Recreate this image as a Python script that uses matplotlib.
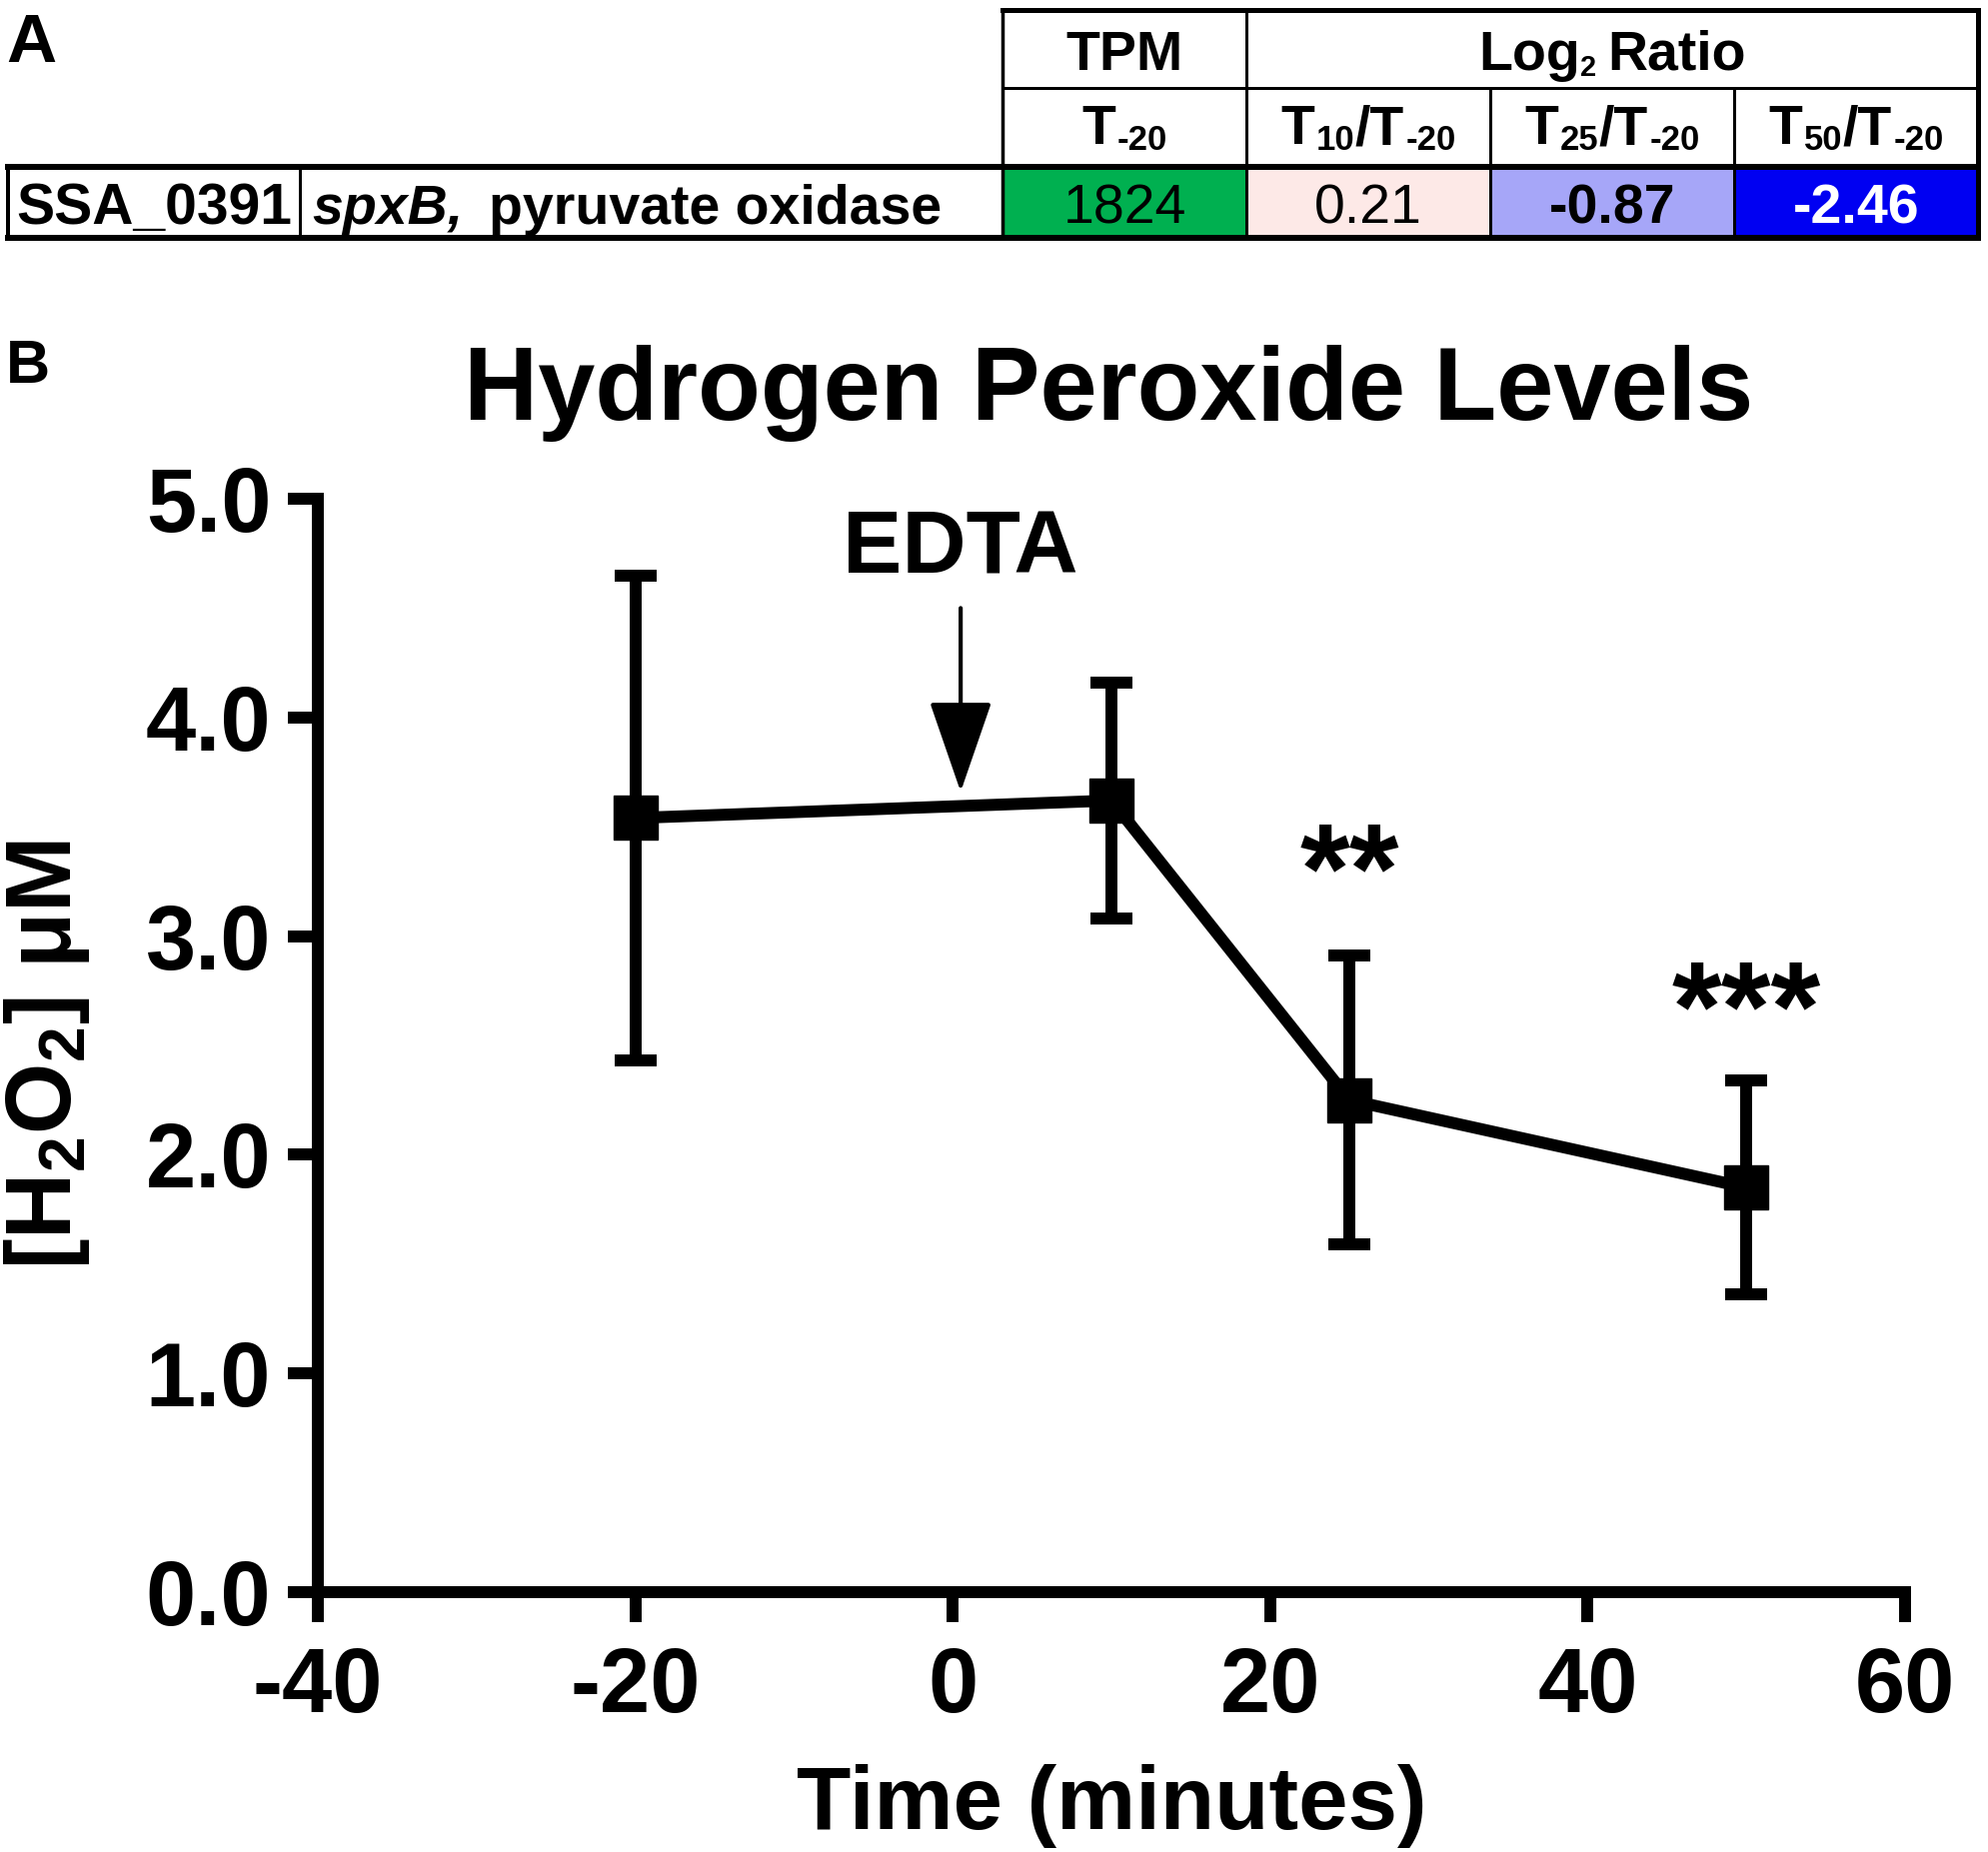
import matplotlib
matplotlib.use('Agg')
import matplotlib.pyplot as plt
from matplotlib.lines import Line2D
from matplotlib.patches import Rectangle

plt.rcParams['font.family'] = ['Liberation Sans', 'DejaVu Sans']
plt.rcParams['font.weight'] = 'bold'
plt.rcParams['mathtext.fontset'] = 'custom'
plt.rcParams['mathtext.rm'] = 'Liberation Sans'
plt.rcParams['mathtext.bf'] = 'Liberation Sans:bold'
plt.rcParams['mathtext.it'] = 'Liberation Sans:italic'
plt.rcParams['axes.unicode_minus'] = False

# ---------------- data ----------------
time_min = [-20, 10, 25, 50]
h2o2_mean = [3.54, 3.62, 2.25, 1.85]
h2o2_sd = [1.11, 0.54, 0.66, 0.49]
sig_marks = ['', '', '**', '***']
sig_y = [0, 0, 3.11, 2.48]
x_ticks = [-40, -20, 0, 20, 40, 60]
y_ticks = [0.0, 1.0, 2.0, 3.0, 4.0, 5.0]
edta_time = 0.5
edta_text_y = 4.66
arrow_top = 4.50
arrow_tip = 3.66

gene_id = 'SSA_0391'
gene_name = 'spxB,'
gene_desc = 'pyruvate oxidase'
tpm_t20 = [1824]
log2_ratios = [0.21, -0.87, -2.46]
ratio_num = ['10', '25', '50']
ratio_den = '-20'
cell_colors = ['#00B050', '#FDE9E7', '#A6A6F8', '#0000F2']
value_weights = ['normal', 'normal', 'bold', 'bold']
value_colors = ['black', 'black', 'black', 'white']

# ---------------- figure ----------------
W, H = 1990, 1853
fig = plt.figure(figsize=(W / 100, H / 100), dpi=100)
ax = fig.add_axes([318 / W, 260 / H, (1906 - 318) / W, (1593 - 499) / H])

ax.errorbar(time_min, h2o2_mean, yerr=h2o2_sd, color='black', lw=8.6,
            marker='s', ms=31, elinewidth=8.6, capsize=15, capthick=8.6,
            clip_on=False, zorder=3)
ax.set_xlim(-40, 60)
ax.set_ylim(0, 5)
for s in ['top', 'right']:
    ax.spines[s].set_visible(False)
for s in ['left', 'bottom']:
    ax.spines[s].set_linewidth(8.6)
ax.set_xticks(x_ticks)
ax.set_xticklabels([f'{v:d}' for v in x_ticks])
ax.set_yticks(y_ticks)
ax.set_yticklabels([f'{v:.1f}' for v in y_ticks])
ax.tick_params(direction='out', length=21.6, width=8.6, labelsize=65)
ax.tick_params(axis='x', pad=17)
ax.tick_params(axis='y', pad=12)

ax.text(edta_time, edta_text_y, 'EDTA', ha='center', va='baseline',
        fontsize=64, fontweight='bold')
ax.annotate('', xy=(edta_time, arrow_tip), xytext=(edta_time, arrow_top),
            arrowprops=dict(arrowstyle='-|>,head_length=0.58,head_width=0.2',
                            lw=3, color='black', mutation_scale=100,
                            shrinkA=0, shrinkB=0))
for xi, s, yi in zip(time_min, sig_marks, sig_y):
    if s:
        ax.text(xi, yi, s, ha='center', va='baseline', fontsize=92,
                fontweight='bold')

# ---------------- overlay (pixel coordinates) ----------------
ov = fig.add_axes([0, 0, 1, 1])
ov.set_xlim(0, W)
ov.set_ylim(H, 0)
ov.axis('off')
ov.patch.set_visible(False)

ov.text(1109, 420, 'Hydrogen Peroxide Levels', ha='center', va='baseline',
        fontsize=74, fontweight='bold')
ov.text(1112, 1830, 'Time (minutes)', ha='center', va='baseline',
        fontsize=64, fontweight='bold')
ov.text(47, 1055, r'[H$_\mathbf{2}$O$_\mathbf{2}$] $\mathrm{μ}$M', rotation=90,
        ha='center', va='center', fontsize=66, fontweight='bold')
ov.text(6, 62, 'A', fontsize=50, fontweight='bold', va='baseline')
ov.text(6, 383, 'B', fontsize=44, fontweight='bold', va='baseline')

renderer = fig.canvas.get_renderer()


def rich(x, y, pieces, ha='center'):
    widths = []
    for p in pieces:
        t = ov.text(0, 0, p['s'], fontsize=p['fs'],
                    fontweight=p.get('w', 'bold'),
                    fontstyle=p.get('st', 'normal'))
        widths.append(t.get_window_extent(renderer=renderer).width)
        t.remove()
    total = sum(widths) + sum(p.get('gap', 0) for p in pieces)
    cx = x - total / 2 if ha == 'center' else x
    for p, w in zip(pieces, widths):
        cx += p.get('gap', 0)
        ov.text(cx, y + p.get('dy', 0), p['s'], fontsize=p['fs'],
                fontweight=p.get('w', 'bold'), fontstyle=p.get('st', 'normal'),
                color=p.get('c', 'black'), ha='left', va='baseline')
        cx += w


col_x = [8, 300, 1003, 1247, 1491, 1735, 1979]
row_y = [10, 88, 167, 238]
FS = 40
SUB = 25

# cell fills
for i, c in enumerate(cell_colors):
    ov.add_patch(Rectangle((col_x[2 + i], row_y[2]), col_x[3 + i] - col_x[2 + i],
                           row_y[3] - row_y[2], facecolor=c, edgecolor='none'))


def hline(y, x0, x1, px):
    ov.add_line(Line2D([x0, x1], [y, y], color='black', lw=px / 1.389,
                       solid_capstyle='projecting'))


def vline(x, y0, y1, px):
    ov.add_line(Line2D([x, x], [y0, y1], color='black', lw=px / 1.389,
                       solid_capstyle='projecting'))


hline(row_y[0], col_x[2], col_x[6], 5)
hline(row_y[1], col_x[2], col_x[6], 3)
hline(row_y[2], col_x[0], col_x[6], 6)
hline(row_y[3], col_x[0], col_x[6], 6)
vline(col_x[0], row_y[2], row_y[3], 4)
vline(col_x[1], row_y[2], row_y[3], 3)
vline(col_x[2], row_y[0], row_y[3], 3.5)
vline(col_x[3], row_y[0], row_y[3], 3)
vline(col_x[4], row_y[1], row_y[3], 3)
vline(col_x[5], row_y[1], row_y[3], 3)
vline(col_x[6], row_y[0], row_y[3], 5)

# header row 1
ov.text((col_x[2] + col_x[3]) / 2, 70, 'TPM', ha='center', va='baseline',
        fontsize=FS, fontweight='bold')
rich((col_x[3] + col_x[6]) / 2, 70,
     [dict(s='Log', fs=FS), dict(s='2', fs=21, dy=6),
      dict(s='Ratio', fs=FS, gap=12)])

# header row 2
rich((col_x[2] + col_x[3]) / 2, 144,
     [dict(s='T', fs=FS), dict(s=ratio_den, fs=SUB, dy=6, gap=2)])
for i, num in enumerate(ratio_num):
    rich((col_x[3 + i] + col_x[4 + i]) / 2, 144,
         [dict(s='T', fs=FS), dict(s=num, fs=SUB, dy=6, gap=2),
          dict(s='/T', fs=FS), dict(s=ratio_den, fs=SUB, dy=6, gap=2)])

# data row
ov.text((col_x[0] + col_x[1]) / 2, 224, gene_id, ha='center', va='baseline',
        fontsize=41, fontweight='bold')
rich(312, 224, [dict(s=gene_name, fs=FS, st='italic'),
                dict(s=gene_desc, fs=FS, gap=26)], ha='left')
values = [f'{tpm_t20[0]:d}'] + [f'{v:.2f}' for v in log2_ratios]
for i, v in enumerate(values):
    ov.text((col_x[2 + i] + col_x[3 + i]) / 2, 223, v, ha='center',
            va='baseline', fontsize=FS, fontweight=value_weights[i],
            color=value_colors[i])

fig.savefig('out.png', dpi=100)
